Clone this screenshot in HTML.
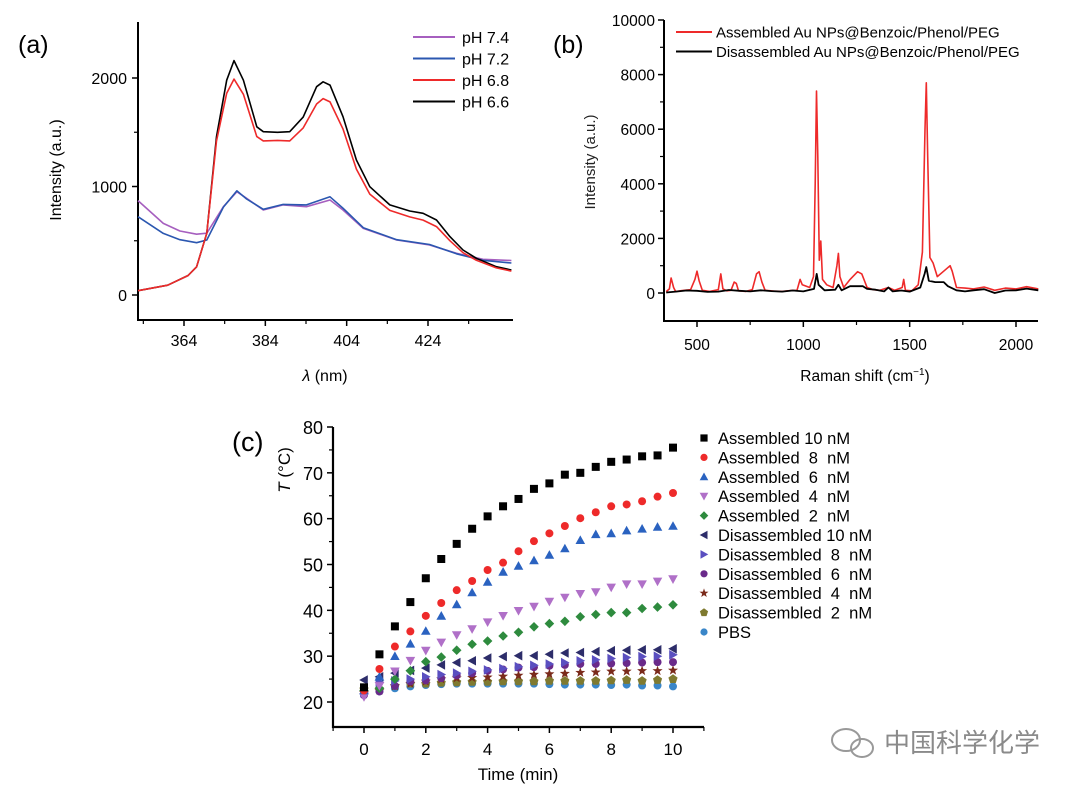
<!DOCTYPE html>
<html><head><meta charset="utf-8">
<style>
html,body{margin:0;padding:0;background:#fff;}
svg{display:block;font-family:"Liberation Sans",Arial,sans-serif;}
.pre{white-space:pre;}
</style></head>
<body>
<svg id="fig" width="1080" height="791" viewBox="0 0 1080 791" xmlns="http://www.w3.org/2000/svg">
<text x="18" y="53" font-size="25">(a)</text>
<text x="553" y="53" font-size="25">(b)</text>
<text x="232" y="451" font-size="27">(c)</text>
<g id="ga"></g>
<g id="gb"></g>
<g id="gc"></g>
<g>
<ellipse cx="846" cy="740" rx="14" ry="11" fill="none" stroke="#999" stroke-width="2"/>
<ellipse cx="862" cy="748" rx="11" ry="9" fill="none" stroke="#999" stroke-width="2"/>
<text x="884" y="752" font-size="26" fill="#8a8a8a" font-family="'Liberation Sans','Noto Sans CJK SC',sans-serif">中国科学化学</text>
</g>
</svg>
<script>
const NS="http://www.w3.org/2000/svg";
// ---------- Panel (a) data ----------
const aBlackX=[352.7,360,365,367.1,369.6,372,374.5,376.3,378.6,381.9,383.5,387,390,393.3,396.6,398.2,399.9,403.1,406.4,409.7,414.6,419.5,422.8,426.1,429.4,432.6,435.9,440.8,444.5];
const aBlackY=[40,90,180,260,570,1460,1980,2160,1980,1550,1505,1500,1505,1640,1920,1965,1935,1643,1244,998,830,774,753,691,537,415,338,261,230];
const aRedX=[352.7,360,365,367.1,369.6,372,374.5,376.3,378.6,381.9,383.5,387,390,393.3,396.6,398.2,399.9,403.1,406.4,409.7,414.6,419.5,422.8,426.1,429.4,432.6,435.9,440.8,444.5];
const aRedY=[40,90,180,260,570,1420,1860,1990,1850,1460,1420,1425,1420,1540,1760,1810,1780,1530,1160,930,780,720,690,630,500,390,320,250,220];
const aPurpleX=[352.7,358.9,363,367.1,369.6,373.7,377,379.4,383.5,388.4,394.1,399.9,403.1,408.1,416.3,424.4,431,437.5,444.5];
const aPurpleY=[870,660,590,560,570,814,952,891,783,830,814,876,783,614,507,461,384,329,318];
const aBlueX=[352.7,358.9,363,367.1,369.6,373.7,377,379.4,383.5,388.4,394.1,399.9,403.1,408.1,416.3,424.4,431,437.5,444.5];
const aBlueY=[722,568,510,482,507,810,960,885,790,835,830,905,800,620,510,465,380,320,295];
const aXTicks=[364,384,404,424];
const aYTicks=[0,1000,2000];
const aLegend=["pH 7.4","pH 7.2","pH 6.8","pH 6.6"];
// ---------- Panel (b) data ----------
const bRedX=[355,370,378,390,400,430,470,490,500,510,525,560,600,612,622,640,660,675,685,695,730,760,780,792,805,820,860,900,940,970,985,995,1030,1048,1056,1062,1068,1075,1082,1090,1110,1140,1158,1165,1172,1190,1220,1255,1275,1300,1330,1360,1400,1430,1465,1472,1480,1510,1540,1560,1572,1578,1585,1595,1610,1630,1660,1690,1700,1720,1760,1800,1850,1900,1950,2000,2050,2105];
const bRedY=[50,150,550,200,50,90,120,500,800,450,100,60,120,700,150,80,100,400,350,80,60,120,700,780,400,100,70,60,90,100,500,300,200,600,4000,7400,5000,1200,1900,500,300,200,1000,1450,600,200,500,780,700,200,120,100,200,100,200,500,100,80,300,1500,6000,7700,5000,1300,1100,600,800,1000,800,200,180,150,220,100,180,150,230,150];
const bBlackX=[355,400,450,500,550,600,650,700,750,800,850,900,950,1000,1050,1063,1072,1100,1150,1165,1180,1220,1280,1300,1340,1380,1400,1420,1460,1500,1550,1570,1578,1590,1620,1660,1680,1720,1760,1800,1850,1900,1950,2000,2050,2105];
const bBlackY=[20,50,90,80,40,50,110,80,60,100,70,50,90,60,150,700,300,100,120,300,100,250,250,150,120,60,200,60,90,50,200,700,950,450,400,400,250,100,60,100,140,0,90,100,160,100];
const bXTicks=[500,1000,1500,2000];
const bYTicks=[0,2000,4000,6000,8000,10000];
// ---------- Panel (c) data ----------
const cTime=[0,0.5,1,1.5,2,2.5,3,3.5,4,4.5,5,5.5,6,6.5,7,7.5,8,8.5,9,9.5,10];
const cAs10=[23.2,30.4,36.5,41.8,47,51.2,54.5,57.8,60.5,62.7,64.3,66.5,67.7,69.6,70,71.3,72.4,72.9,73.6,73.8,75.5];
const cAs8=[22.5,27.2,32.1,35.4,38.8,41.6,44.4,46.4,48.8,50.4,52.9,55.1,56.8,58.4,60.1,61.4,62.7,63.1,63.8,64.8,65.6];
const cAs6=[22.5,25.5,30,32.7,35.5,38.8,41.3,43.9,46.2,48.4,49.7,50.9,52.1,53.5,55.3,56.6,56.8,57.4,57.8,58.2,58.4];
const cAs4=[21.1,23.5,26.7,29,31.2,33,34.6,35.9,37.4,38.8,39.9,40.8,41.9,42.8,43.6,44,45,45.7,45.7,46.3,46.8];
const cAs2=[22.5,23,25,26.8,28.8,29.8,31.3,32.6,33.3,34.4,35.2,36.4,37.1,37.6,38.6,39.1,39.5,39.5,40.4,40.7,41.2];
const cDis10=[24.8,25.5,26.3,26.9,27.4,28.1,28.6,29,29.6,29.9,30.1,30.1,30.4,30.7,30.8,31,31.2,31.3,31.4,31.4,31.6];
const cDis8=[22,24.3,24.6,25,25.5,26,26.3,26.7,27,27.3,27.7,28,28.3,28.6,29,29.2,29.5,29.7,29.9,30,30.3];
const cDis6=[21.5,22.3,23.5,24.5,24.7,25.2,25.8,26.3,26.8,27.1,27.5,27.6,27.9,28.1,28.3,28.3,28.4,28.5,28.6,28.7,28.7];
const cDis4=[22,22.5,23.5,24,24.5,25,25.2,25.3,25.4,25.6,25.8,26,26.1,26.2,26.4,26.5,26.7,26.7,26.8,26.8,26.9];
const cDis2=[22.8,22.8,23.5,24,24,24.2,24.3,24.4,24.4,24.5,24.5,24.5,24.6,24.6,24.6,24.6,24.7,24.8,24.6,24.8,25];
const cPBS=[22.3,22.3,23,23.4,23.7,23.9,24,24,24,24,24,24,23.9,23.8,23.8,23.8,23.7,23.8,23.6,23.6,23.4];
const cXTicks=[0,2,4,6,8,10];
const cYTicks=[20,30,40,50,60,70,80];
const cLabels=["Assembled 10 nM","Assembled  8  nM","Assembled  6  nM","Assembled  4  nM","Assembled  2  nM","Disassembled 10 nM","Disassembled  8  nM","Disassembled  6  nM","Disassembled  4  nM","Disassembled  2  nM","PBS"];

function el(parent,tag,attrs,text){const e=document.createElementNS(NS,tag);for(const k in attrs)e.setAttribute(k,attrs[k]);if(text!==undefined)e.textContent=text;parent.appendChild(e);return e;}
function lin(d0,d1,p0,p1){return v=>p0+(v-d0)*(p1-p0)/(d1-d0);}
function poly(g,xs,ys,sx,sy,color,name,w){
  let d="";for(let i=0;i<xs.length;i++){d+=(i?"L":"M")+sx(xs[i]).toFixed(1)+","+sy(ys[i]).toFixed(1);}
  const p=el(g,"path",{d:d,fill:"none",stroke:color,"stroke-width":w||1.6,"stroke-linejoin":"round"});
  
  
}

// ---------- Panel (a) ----------
(function(){
  const g=document.getElementById("ga");
  const sx=lin(364,424,184,428), sy=lin(0,2000,295,78);
  el(g,"line",{x1:138,y1:22,x2:138,y2:321,stroke:"#000","stroke-width":2});
  el(g,"line",{x1:137,y1:320,x2:513,y2:320,stroke:"#000","stroke-width":2});
  aYTicks.forEach(v=>{el(g,"line",{x1:132,y1:sy(v),x2:138,y2:sy(v),stroke:"#000","stroke-width":1.5});
    const t=el(g,"text",{x:127,y:sy(v)+6,"font-size":16,"text-anchor":"end"},String(v));
    });
  [500,1500].forEach(v=>el(g,"line",{x1:134,y1:sy(v),x2:138,y2:sy(v),stroke:"#000","stroke-width":1.2}));
  aXTicks.forEach(v=>{el(g,"line",{x1:sx(v),y1:320,x2:sx(v),y2:326,stroke:"#000","stroke-width":1.5});
    const t=el(g,"text",{x:sx(v),y:346,"font-size":16,"text-anchor":"middle"},String(v));
    });
  [354,374,394,414,434].forEach(v=>el(g,"line",{x1:sx(v),y1:320,x2:sx(v),y2:324,stroke:"#000","stroke-width":1.2}));
  const yt=el(g,"text",{x:0,y:0,"font-size":16,"text-anchor":"middle",transform:"translate(61,170) rotate(-90)"},"Intensity (a.u.)");
  
  const xt=el(g,"text",{x:325,y:381,"font-size":16,"text-anchor":"middle"});
  
  el(xt,"tspan",{"font-style":"italic"},"λ");el(xt,"tspan",{}," (nm)");
  poly(g,aPurpleX,aPurpleY,sx,sy,"#a65fbf","line-ph-7-4");
  poly(g,aBlueX,aBlueY,sx,sy,"#2b57b0","line-ph-7-2");
  poly(g,aBlackX,aBlackY,sx,sy,"#000","line-ph-6-6");
  poly(g,aRedX,aRedY,sx,sy,"#ee2a2a","line-ph-6-8");
  const cols=["#a65fbf","#2b57b0","#ee2a2a","#000"];
  aLegend.forEach((s,i)=>{const y=37+i*21.5;
    el(g,"line",{x1:413,y1:y,x2:455,y2:y,stroke:cols[i],"stroke-width":2});
    const t=el(g,"text",{x:462,y:y+6,"font-size":16},s);
    });
})();

// ---------- Panel (b) ----------
(function(){
  const g=document.getElementById("gb");
  const sx=lin(500,2000,697,1016), sy=lin(0,10000,293,20);
  el(g,"line",{x1:664,y1:20,x2:664,y2:322,stroke:"#000","stroke-width":2});
  el(g,"line",{x1:663,y1:321,x2:1038,y2:321,stroke:"#000","stroke-width":2});
  bYTicks.forEach(v=>{el(g,"line",{x1:658,y1:sy(v),x2:664,y2:sy(v),stroke:"#000","stroke-width":1.5});
    const t=el(g,"text",{x:655,y:sy(v)+6,"font-size":15.5,"text-anchor":"end"},String(v));
    });
  [1000,3000,5000,7000,9000].forEach(v=>el(g,"line",{x1:660,y1:sy(v),x2:664,y2:sy(v),stroke:"#000","stroke-width":1.2}));
  bXTicks.forEach(v=>{el(g,"line",{x1:sx(v),y1:321,x2:sx(v),y2:327,stroke:"#000","stroke-width":1.5});
    const t=el(g,"text",{x:sx(v),y:350,"font-size":15.5,"text-anchor":"middle"},String(v));
    });
  [750,1250,1750].forEach(v=>el(g,"line",{x1:sx(v),y1:321,x2:sx(v),y2:325,stroke:"#000","stroke-width":1.2}));
  const yt=el(g,"text",{x:0,y:0,"font-size":15,"text-anchor":"middle",fill:"#222",transform:"translate(595,162) rotate(-90)"},"Intensity (a.u.)");
  
  const xt=el(g,"text",{x:865,y:381,"font-size":15.5,"text-anchor":"middle"});
  
  el(xt,"tspan",{},"Raman shift (cm");el(xt,"tspan",{"font-size":10,dy:-6},"−1");el(xt,"tspan",{dy:6},")");
  poly(g,bRedX,bRedY,sx,sy,"#ee2a2a","line-assembled",1.6);
  poly(g,bBlackX,bBlackY,sx,sy,"#000","line-disassembled",1.8);
  const cols=["#ee2a2a","#000"],labs=["Assembled Au NPs@Benzoic/Phenol/PEG","Disassembled Au NPs@Benzoic/Phenol/PEG"];
  labs.forEach((s,i)=>{const y=32+i*19.5;
    el(g,"line",{x1:676,y1:y,x2:712,y2:y,stroke:cols[i],"stroke-width":2});
    const t=el(g,"text",{x:716,y:y+5.5,"font-size":15},s);
    });
})();

// ---------- Panel (c) ----------
(function(){
  const g=document.getElementById("gc");
  const sx=lin(0,10,364,673), sy=lin(20,80,702,427);
  el(g,"line",{x1:333,y1:427,x2:333,y2:728,stroke:"#000","stroke-width":2.2});
  el(g,"line",{x1:332,y1:727,x2:704,y2:727,stroke:"#000","stroke-width":2.2});
  cYTicks.forEach(v=>{el(g,"line",{x1:327,y1:sy(v),x2:333,y2:sy(v),stroke:"#000","stroke-width":1.5});
    const t=el(g,"text",{x:323,y:sy(v)+7,"font-size":18,"text-anchor":"end"},String(v));
    });
  [25,35,45,55,65,75].forEach(v=>el(g,"line",{x1:329,y1:sy(v),x2:333,y2:sy(v),stroke:"#000","stroke-width":1.2}));
  cXTicks.forEach(v=>{el(g,"line",{x1:sx(v),y1:727,x2:sx(v),y2:733,stroke:"#000","stroke-width":1.5});
    const t=el(g,"text",{x:sx(v),y:755,"font-size":17,"text-anchor":"middle"},String(v));
    });
  [-1,1,3,5,7,9,11].forEach(v=>el(g,"line",{x1:sx(v),y1:727,x2:sx(v),y2:731,stroke:"#000","stroke-width":1.2}));
  const yt=el(g,"text",{x:0,y:0,"font-size":17,"text-anchor":"middle",transform:"translate(290,470) rotate(-90)"});
  
  el(yt,"tspan",{"font-style":"italic"},"T");el(yt,"tspan",{}," (°C)");
  const xt=el(g,"text",{x:518,y:780,"font-size":17,"text-anchor":"middle"},"Time (min)");
  
  const series=[cAs10,cAs8,cAs6,cAs4,cAs2,cDis10,cDis8,cDis6,cDis4,cDis2,cPBS];
  const cols=["#000","#ee2a2a","#2a62c0","#b070c8","#2e8b3e","#2d2d6a","#5a4fc0","#6a2a8a","#7a2a1a","#7f7a30","#3a86c8"];
  const shapes=["sq","ci","tu","td","di","tl","tr","ci","st","pe","ci"];
  function mark(parent,s,x,y,c,r){
    let e;
    if(s==="sq")e=el(parent,"rect",{x:x-r,y:y-r,width:2*r,height:2*r,fill:c});
    else if(s==="ci")e=el(parent,"circle",{cx:x,cy:y,r:r,fill:c});
    else{let pts;const k=r*1.2;
      if(s==="tu")pts=[[x,y-k],[x+k,y+k*0.8],[x-k,y+k*0.8]];
      else if(s==="td")pts=[[x,y+k],[x+k,y-k*0.8],[x-k,y-k*0.8]];
      else if(s==="tl")pts=[[x-k,y],[x+k*0.8,y-k],[x+k*0.8,y+k]];
      else if(s==="tr")pts=[[x+k,y],[x-k*0.8,y-k],[x-k*0.8,y+k]];
      else if(s==="di")pts=[[x,y-k],[x+k,y],[x,y+k],[x-k,y]];
      else if(s==="pe"){pts=[];for(let i=0;i<5;i++){const a=-Math.PI/2+i*2*Math.PI/5;pts.push([x+k*Math.cos(a),y+k*Math.sin(a)]);}}
      else {pts=[];for(let i=0;i<10;i++){const a=-Math.PI/2+i*Math.PI/5;const rr=i%2?k*0.45:k*1.1;pts.push([x+rr*Math.cos(a),y+rr*Math.sin(a)]);}}
      e=el(parent,"polygon",{points:pts.map(p=>p[0].toFixed(1)+","+p[1].toFixed(1)).join(" "),fill:c});}
    return e;
  }
  for(let si=series.length-1;si>=0;si--){
    const sg=el(g,"g",{});
    
    
    series[si].forEach((v,i)=>{const m=mark(sg,shapes[si],sx(cTime[i]),sy(v),cols[si],4);
      
      });
  }
  cLabels.forEach((s,i)=>{const y=438+i*19.4;
    mark(g,shapes[i],704,y,cols[i],3.6);
    const t=el(g,"text",{x:718,y:y+6,"font-size":16.5,"class":"pre"},s);
    });
})();
</script>
</body></html>
